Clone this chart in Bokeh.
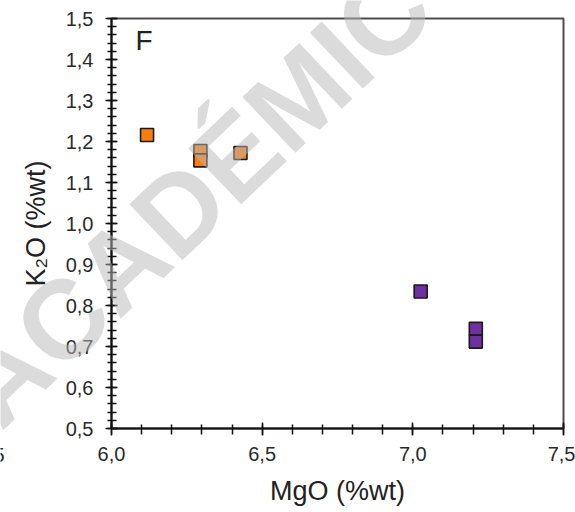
import math
from bokeh.plotting import figure
from bokeh.layouts import column
from bokeh.models import Range1d, SingleIntervalTicker, CustomJSTickFormatter, Label
from bokeh.core.properties import value
from bokeh.embed import file_html
from bokeh.resources import INLINE

# --- data ---
orange_mgo = [6.118, 6.295, 6.295, 6.428]
orange_k2o = [1.216, 1.177, 1.154, 1.172]
purple_mgo = [7.026, 7.209, 7.209]
purple_k2o = [0.834, 0.743, 0.712]

x_label = "MgO (%wt)"
y_label = "K₂O (%wt)"
panel_tag = "F"
watermark = "ACADÉMIC"
neighbour_tick = "7,5"

FONT = "Liberation Sans"
W, H = 575, 512

p = figure(width=W, height=H,
           x_range=Range1d(6.0, 7.5), y_range=Range1d(0.5, 1.5),
           output_backend="svg", toolbar_location=None,
           min_border_left=111, min_border_right=12,
           min_border_top=18, min_border_bottom=84,
           background_fill_color="white", border_fill_color="white")
p.frame_align = False

p.xgrid.visible = False
p.ygrid.visible = False
p.outline_line_color = "#4d4d4d"
p.outline_line_width = 2

fmt = CustomJSTickFormatter(code="return tick.toFixed(1).replace('.', ',');")

xa = p.xaxis[0]
xa.ticker = SingleIntervalTicker(interval=0.5, num_minor_ticks=5)
xa.formatter = fmt
xa.axis_label = x_label
xa.axis_line_color = "#111111"
xa.axis_line_width = 2
xa.major_tick_in = 6
xa.major_tick_out = 7
xa.minor_tick_in = 4
xa.minor_tick_out = 6
xa.major_tick_line_color = "#111111"
xa.minor_tick_line_color = "#111111"
xa.major_tick_line_width = 1.5
xa.minor_tick_line_width = 1.5
xa.major_label_standoff = 11
xa.major_label_text_font = FONT
xa.major_label_text_font_size = "20px"
xa.major_label_text_color = "#2a2a2a"
xa.axis_label_standoff = 12
xa.axis_label_text_font = FONT
xa.axis_label_text_font_size = "27px"
xa.axis_label_text_font_style = "normal"
xa.axis_label_text_color = "#222222"

ya = p.yaxis[0]
ya.ticker = SingleIntervalTicker(interval=0.1, num_minor_ticks=5)
ya.formatter = fmt
ya.axis_label = y_label
ya.axis_line_color = "#111111"
ya.axis_line_width = 2
ya.major_tick_in = 6
ya.major_tick_out = 6
ya.minor_tick_in = 5
ya.minor_tick_out = 4
ya.major_tick_line_color = "#111111"
ya.minor_tick_line_color = "#111111"
ya.major_tick_line_width = 1.5
ya.minor_tick_line_width = 1.5
ya.major_label_standoff = 12
ya.major_label_text_font = FONT
ya.major_label_text_font_size = "20px"
ya.major_label_text_color = "#2a2a2a"
ya.axis_label_standoff = 12
ya.axis_label_text_font = FONT
ya.axis_label_text_font_size = "27px"
ya.axis_label_text_font_style = "normal"
ya.axis_label_text_color = "#222222"

p.scatter(orange_mgo, orange_k2o, marker="square", size=13,
          fill_color="#f77f0e", line_color="#1a1a1a", line_width=1.6)
p.scatter(purple_mgo, purple_k2o, marker="square", size=13,
          fill_color="#7030a0", line_color="#1a1a1a", line_width=1.6)

p.add_layout(Label(x=6.08, y=1.5, text=panel_tag, text_font=FONT,
                   text_font_size="28px", text_color="#222222",
                   text_align="left", text_baseline="top", y_offset=-6))

# transparent overlay (same size, pixel coordinates, no axes) for the
# watermark that spreads over the whole picture, and the cut-off neighbour label
wm = figure(width=W, height=H, x_range=Range1d(0, W), y_range=Range1d(H, 0),
            x_axis_type=None, y_axis_type=None,
            output_backend="svg", toolbar_location=None, min_border=0,
            background_fill_alpha=0, border_fill_alpha=0)
wm.frame_align = False
wm.outline_line_color = None
wm.grid.visible = False
wm.styles = {"margin-top": f"-{H}px"}

wm.text(x=[193], y=[196], text=[watermark], angle=math.radians(43.5),
        text_font=value(FONT), text_font_style="bold", text_font_size="112px",
        text_color="#b8b8b8", text_alpha=0.5,
        text_align="center", text_baseline="middle")
wm.text(x=[4], y=[447], text=[neighbour_tick], text_font=value(FONT),
        text_font_size="20px", text_color="#2a2a2a",
        text_align="right", text_baseline="top")

layout = column(p, wm)

open("out.html", "w").write(file_html(layout, INLINE))
